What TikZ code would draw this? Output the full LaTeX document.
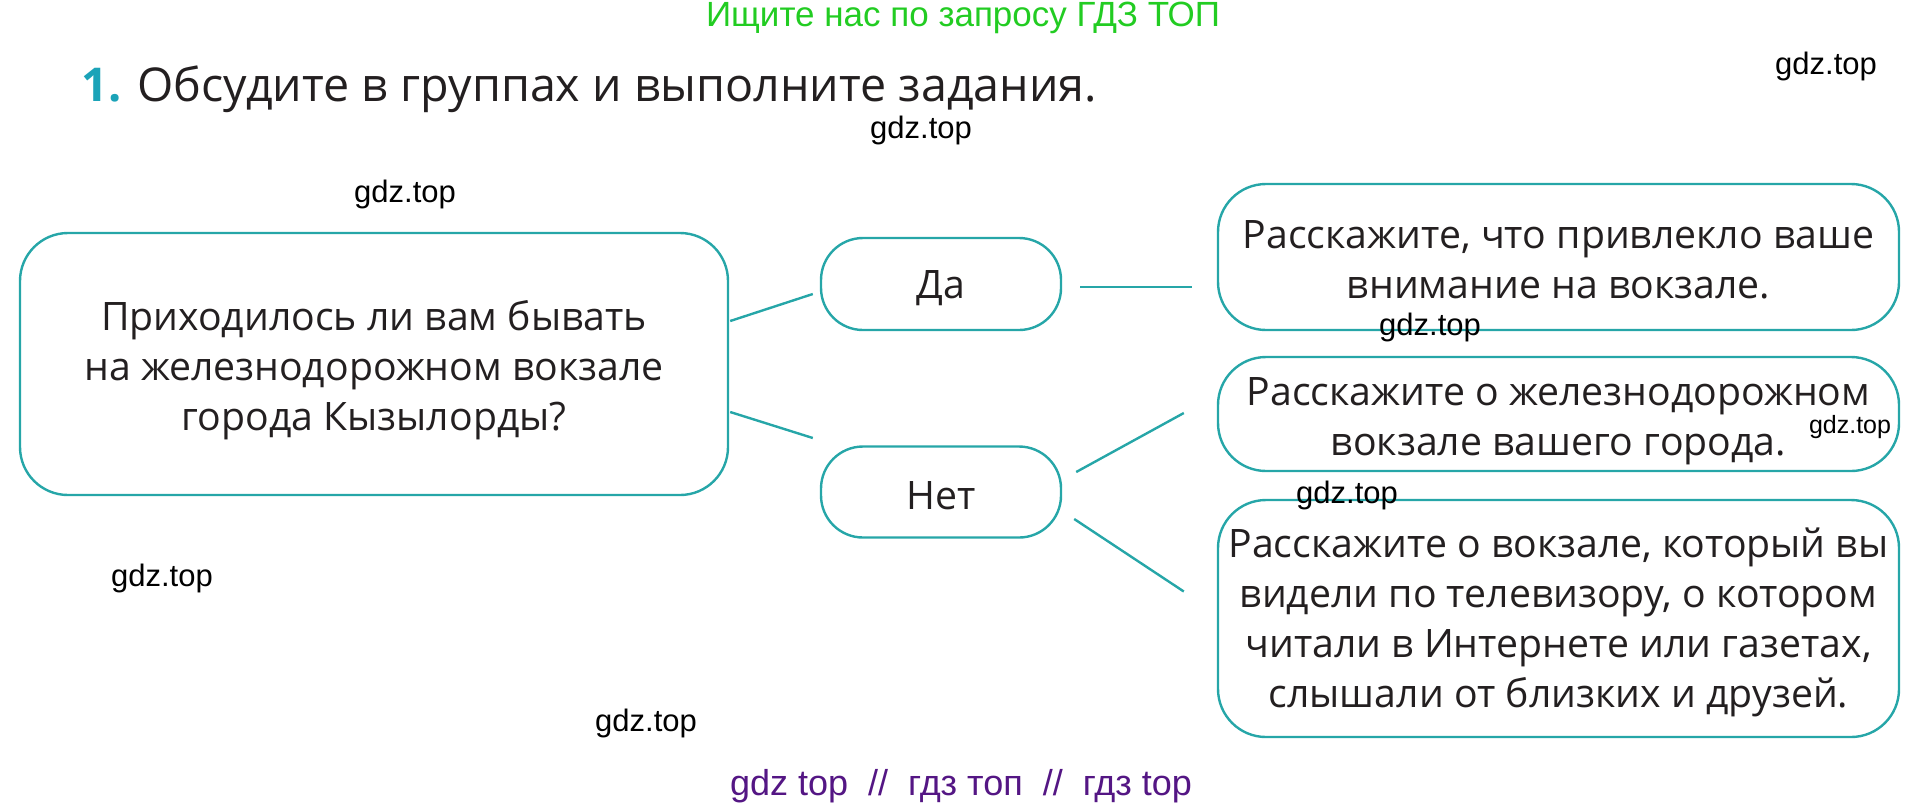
\documentclass[tikz,border=0pt]{standalone}
\usepackage{fontspec}
\setmainfont{Open Sans}
\newfontfamily\wmfont{Liberation Sans}
\usetikzlibrary{calc}
\definecolor{teal1}{RGB}{38,166,168}
\definecolor{numteal}{RGB}{27,163,184}
\definecolor{txt}{RGB}{35,31,32}
\definecolor{gr}{RGB}{34,204,34}
\definecolor{purp}{RGB}{84,22,132}
\tikzset{
  box/.style={draw=teal1, line width=1.2pt, rounded corners=24pt, inner sep=0pt},
  btext/.style={align=center, text=txt, font=\fontsize{19.6}{25}\selectfont, inner sep=0pt},
  conn/.style={draw=teal1, line width=1.2pt},
  wm/.style={font=\wmfont\fontsize{15.5}{17}\selectfont, text=black, inner sep=0pt},
}
\begin{document}
\begin{tikzpicture}[x=0.5pt,y=-0.5pt]
\useasboundingbox (0,0) rectangle (1925,810);
\node[font=\wmfont\fontsize{17.5}{19}\selectfont, text=gr, inner sep=0pt] (ad) at (963,18) {Ищите нас по запросу ГДЗ ТОП};
\node[anchor=base west, inner sep=0pt, text=txt, font=\fontsize{23.3}{28}\selectfont] (title) at (81,101) {\textcolor{numteal}{\textbf{1.}} Обсудите в группах и выполните задания.};

\node[box, minimum width=354pt, minimum height=131pt] (q) at (374,364) {};
\node[btext] (qt) at ($(q)+(0,6)$) {Приходилось ли вам бывать\\на железнодорожном вокзале\\города Кызылорды?};
\node[box, rounded corners=21pt, minimum width=120pt, minimum height=46pt] (da) at (941,284) {};
\node[btext] (dat) at ($(da)+(0,4)$) {Да};
\node[box, rounded corners=21pt, minimum width=120pt, minimum height=45.5pt] (net) at (941,492) {};
\node[btext] (nett) at ($(net)+(0,4)$) {Нет};
\node[box, minimum width=340.5pt, minimum height=73pt] (r1) at (1558.5,257) {};
\node[btext] (r1t) at ($(r1)+(0,3)$) {Расскажите, что привлекло ваше\\внимание на вокзале.};
\node[box, minimum width=340.5pt, minimum height=57pt] (r2) at (1558.5,414) {};
\node[btext] (r2t) at ($(r2)+(0,7)$) {Расскажите о железнодорожном\\вокзале вашего города.};
\node[box, minimum width=340.5pt, minimum height=118.5pt] (r3) at (1558.5,618.5) {};
\node[btext] (r3t) at ($(r3)+(0,4)$) {Расскажите о вокзале, который вы\\видели по телевизору, о котором\\читали в Интернете или газетах,\\слышали от близких и друзей.};

\draw[conn] ($(q.east)+(1,-43)$) -- ($(da.west)+(-7,10)$);
\draw[conn] ($(q.east)+(1,48)$) -- ($(net.west)+(-7,-54)$);
\draw[conn] ($(da.east)+(18,3)$) -- ($(r1.west)+(-25,30)$);
\draw[conn] ($(net.east)+(14,-20)$) -- ($(r2.west)+(-33,-1)$);
\draw[conn] ($(net.east)+(12,27)$) -- ($(r3.west)+(-33,-27)$);

\node[wm] (w1) at (1826,66) {gdz.top};
\node[wm] (w2) at (921,130) {gdz.top};
\node[wm] (w3) at (405,194) {gdz.top};
\node[wm] (w4) at (1430,327) {gdz.top};
\node[wm, font=\wmfont\fontsize{12.5}{14}\selectfont] (w5) at (1850,427) {gdz.top};
\node[wm] (w6) at (1347,495) {gdz.top};
\node[wm] (w7) at (162,578) {gdz.top};
\node[wm] (w8) at (646,723) {gdz.top};

\node[font=\wmfont\fontsize{18}{20}\selectfont, text=purp, inner sep=0pt] (foot) at (961,786) {gdz top \ // \ гдз топ \ // \ гдз top};
\end{tikzpicture}
\end{document}
